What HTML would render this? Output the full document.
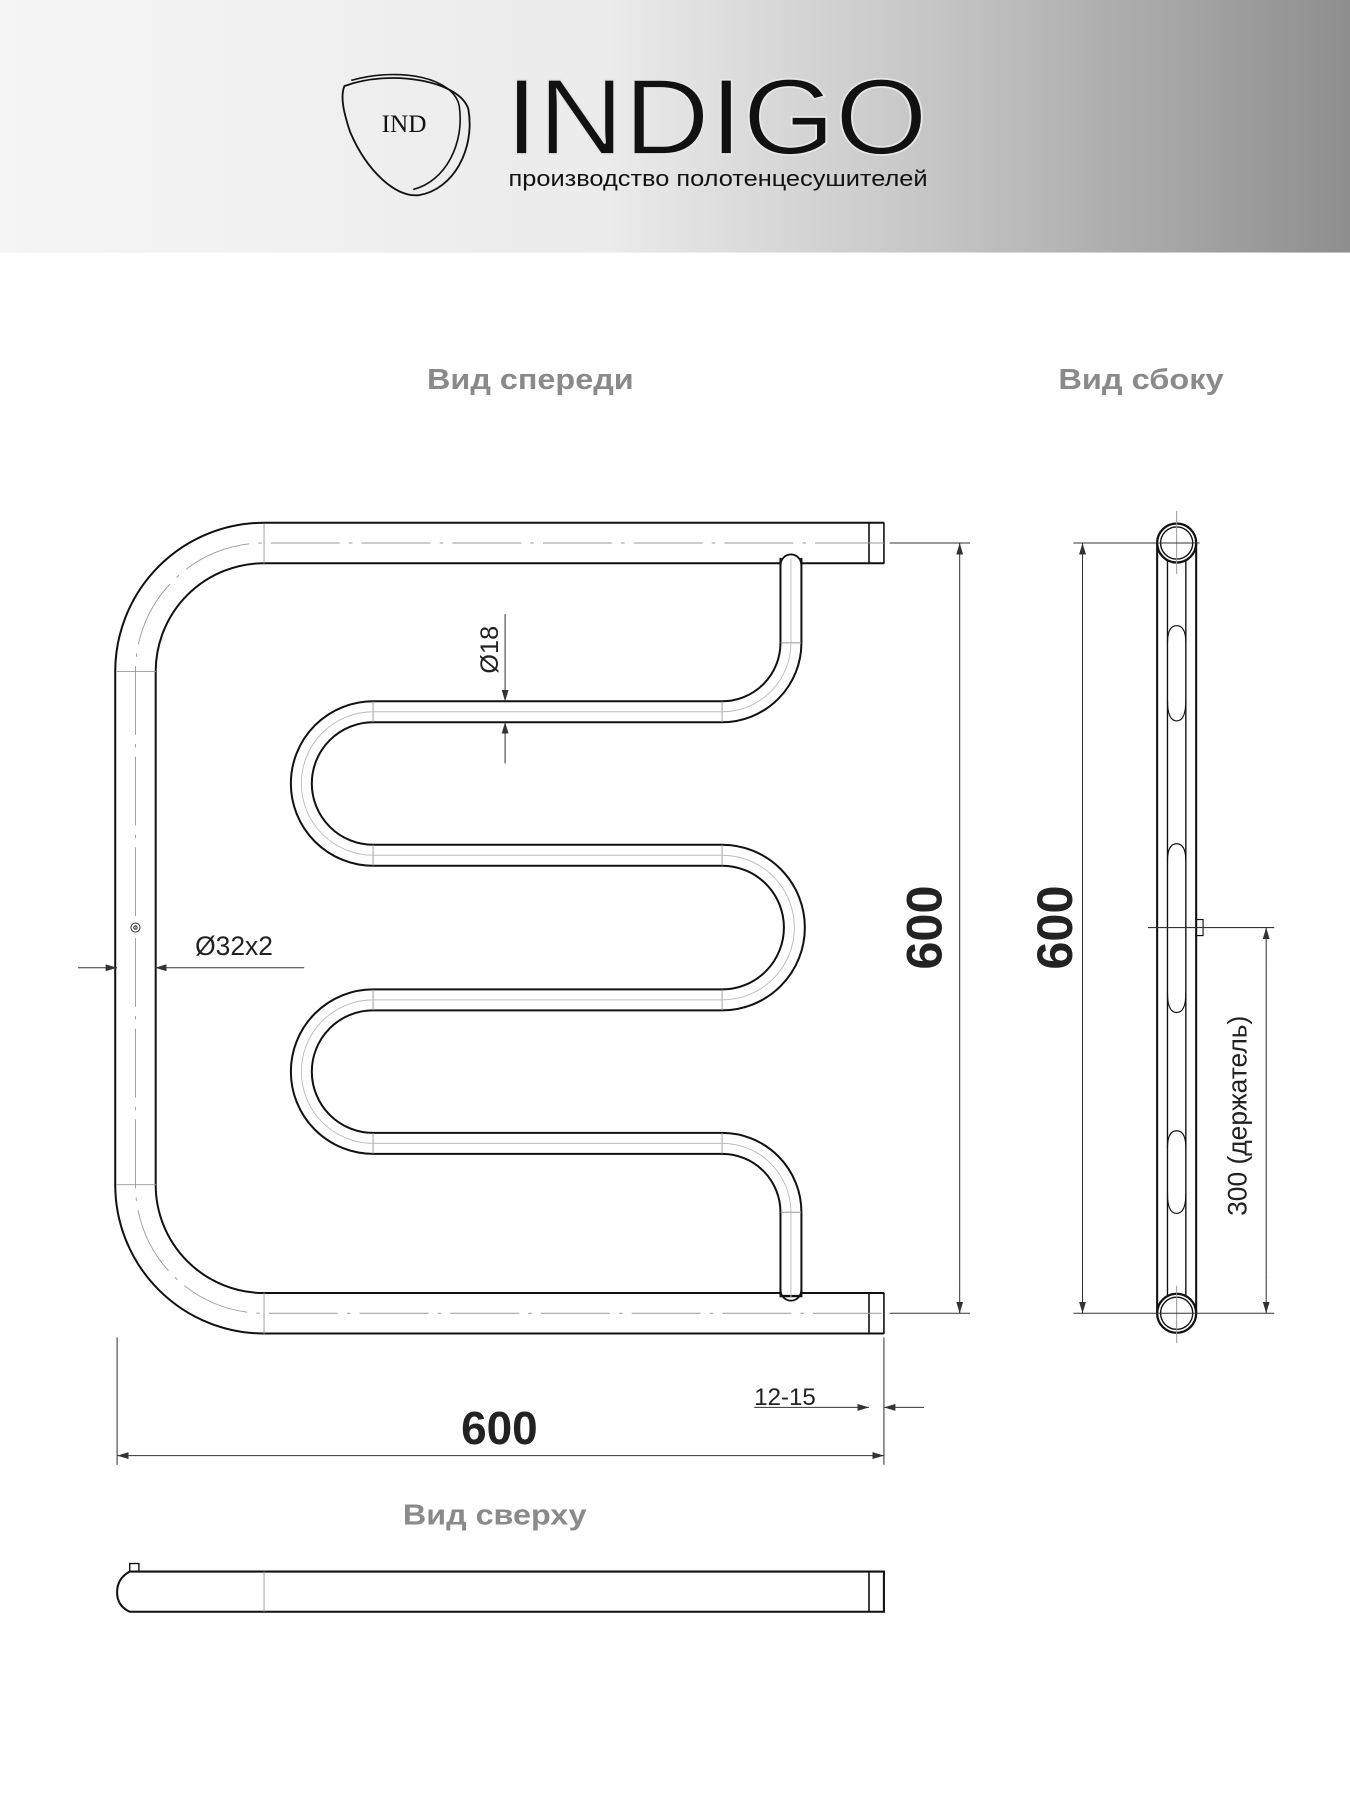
<!DOCTYPE html>
<html><head><meta charset="utf-8"><style>
html,body{margin:0;padding:0;background:#fff}
svg{display:block}
</style></head><body>
<svg width="1350" height="1800" viewBox="0 0 1176 1568" xmlns="http://www.w3.org/2000/svg" font-family="Liberation Sans, DejaVu Sans, sans-serif">
<defs>
<linearGradient id="hg" x1="0" y1="0" x2="1" y2="0">
<stop offset="0" stop-color="#f5f5f5"/><stop offset="0.45" stop-color="#ebebeb"/><stop offset="0.7" stop-color="#c4c4c4"/><stop offset="1" stop-color="#8e8e8e"/>
</linearGradient>
<marker id="ar" viewBox="0 0 10 6" refX="10" refY="3" markerWidth="10" markerHeight="6" orient="auto" markerUnits="userSpaceOnUse"><path d="M0,0 L10,3 L0,6 z" fill="#333"/></marker>
</defs>
<rect x="0" y="0" width="1176" height="220" fill="url(#hg)"/>
<!-- logo -->
<path d="M300,75 C340,60 400,70 408,95 C414,130 395,165 365,170 C345,172 320,150 305,115 C300,100 296,85 300,75 Z" fill="none" stroke="#111" stroke-width="1.6"/>
<path d="M306,70 C350,58 395,68 400,92 C405,125 388,158 360,165" fill="none" stroke="#111" stroke-width="1.4"/>
<text x="352" y="115" font-family="Liberation Serif, serif" font-size="22" text-anchor="middle" fill="#111">IND</text>
<text x="440" y="134" font-size="94" fill="#111" stroke="#e6e6e6" stroke-width="1.5" textLength="368" lengthAdjust="spacingAndGlyphs">INDIGO</text>
<text x="443" y="162" font-size="19" fill="#111" textLength="365" lengthAdjust="spacingAndGlyphs">производство полотенцесушителей</text>
<!-- titles -->
<g font-weight="bold" fill="#8a8a8a" font-size="25">
<text x="372" y="339" textLength="180" lengthAdjust="spacingAndGlyphs">Вид спереди</text>
<text x="922" y="339" textLength="144" lengthAdjust="spacingAndGlyphs">Вид сбоку</text>
<text x="351" y="1328" textLength="160" lengthAdjust="spacingAndGlyphs">Вид сверху</text>
</g>
<!-- main tube -->
<path d="M770,473 L230,473 A112,112 0 0 0 118,585 L118,1032 A112,112 0 0 0 230,1144 L770,1144" fill="none" stroke="#111" stroke-width="37"/>
<path d="M770,473 L230,473 A112,112 0 0 0 118,585 L118,1032 A112,112 0 0 0 230,1144 L770,1144" fill="none" stroke="#fff" stroke-width="33.5"/>
<!-- serpentine -->
<path d="M689,486 L689,560 A60,60 0 0 1 629,620 L325,620 A62.5,62.5 0 0 0 325,745 L629,745 A63,63 0 0 1 629,871 L325,871 A62.5,62.5 0 0 0 325,996 L629,996 A60,60 0 0 1 689,1056 L689,1130" fill="none" stroke="#111" stroke-width="20"/>
<path d="M689,484 L689,560 A60,60 0 0 1 629,620 L325,620 A62.5,62.5 0 0 0 325,745 L629,745 A63,63 0 0 1 629,871 L325,871 A62.5,62.5 0 0 0 325,996 L629,996 A60,60 0 0 1 689,1056 L689,1128" fill="none" stroke="#fff" stroke-width="16.5"/>
<path d="M680,492 A9,9 0 0 1 698,492" fill="none" stroke="#111" stroke-width="1.6"/>
<path d="M680,1124 A9,9 0 0 0 698,1124" fill="none" stroke="#111" stroke-width="1.6"/>
<!-- end caps & seams -->
<g stroke="#111" stroke-width="1.4">
<line x1="770" y1="455" x2="770" y2="491"/><line x1="757" y1="456" x2="757" y2="491"/>
<line x1="770" y1="1126" x2="770" y2="1162"/><line x1="757" y1="1126" x2="757" y2="1162"/>
</g>
<g stroke="#999" stroke-width="0.8" fill="none">
<line x1="230" y1="456" x2="230" y2="491"/><line x1="230" y1="1126" x2="230" y2="1162"/>
<line x1="101" y1="585" x2="136" y2="585"/><line x1="101" y1="1032" x2="136" y2="1032"/>
<line x1="325" y1="611" x2="325" y2="629"/><line x1="629" y1="611" x2="629" y2="629"/>
<line x1="325" y1="736" x2="325" y2="754"/><line x1="629" y1="736" x2="629" y2="754"/>
<line x1="325" y1="862" x2="325" y2="880"/><line x1="629" y1="862" x2="629" y2="880"/>
<line x1="325" y1="987" x2="325" y2="1005"/><line x1="629" y1="987" x2="629" y2="1005"/>
<line x1="680" y1="560" x2="698" y2="560"/><line x1="680" y1="1056" x2="698" y2="1056"/>
<path d="M770,473 L230,473 A112,112 0 0 0 118,585 L118,1032 A112,112 0 0 0 230,1144 L770,1144" stroke-dasharray="60,8,3,8"/>
<path d="M689,486 L689,560 A60,60 0 0 1 629,620 L325,620 A62.5,62.5 0 0 0 325,745 L629,745 A63,63 0 0 1 629,871 L325,871 A62.5,62.5 0 0 0 325,996 L629,996 A60,60 0 0 1 689,1056 L689,1130" stroke="#bbb"/>
</g>
<g stroke="#333" stroke-width="0.9" fill="none">
<line x1="775" y1="473" x2="845" y2="473"/><line x1="775" y1="1144" x2="845" y2="1144"/>
<line x1="836" y1="500" x2="836" y2="473" marker-end="url(#ar)"/>
<line x1="836" y1="1120" x2="836" y2="1144" marker-end="url(#ar)"/>
<line x1="836" y1="500" x2="836" y2="1120"/>
<line x1="440" y1="535" x2="440" y2="611" marker-end="url(#ar)"/>
<line x1="440" y1="665" x2="440" y2="629" marker-end="url(#ar)"/>
<line x1="68" y1="843" x2="102" y2="843" marker-end="url(#ar)"/>
<line x1="265" y1="843" x2="135" y2="843" marker-end="url(#ar)"/>
<circle cx="118" cy="808" r="4"/><circle cx="118" cy="808" r="1.5"/>
<line x1="102" y1="1165" x2="102" y2="1276"/><line x1="770" y1="1165" x2="770" y2="1276"/>
<line x1="435" y1="1268" x2="102" y2="1268" marker-end="url(#ar)"/>
<line x1="435" y1="1268" x2="770" y2="1268" marker-end="url(#ar)"/>
<line x1="657" y1="1226" x2="757" y2="1226" marker-end="url(#ar)"/>
<line x1="805" y1="1226" x2="770" y2="1226" marker-end="url(#ar)"/>
</g>
<g fill="#222">
<text transform="translate(820,808) rotate(-90)" font-size="44" font-weight="bold" text-anchor="middle">600</text>
<text transform="translate(434,566) rotate(-90)" font-size="22" text-anchor="middle">Ø18</text>
<text x="170" y="832" font-size="23">Ø32x2</text>
<text x="435" y="1258" font-size="40" font-weight="bold" text-anchor="middle">600</text>
<text x="657" y="1224" font-size="21">12-15</text>
<text transform="translate(934,808) rotate(-90)" font-size="44" font-weight="bold" text-anchor="middle">600</text>
<text transform="translate(1086,972) rotate(-90)" font-size="23" text-anchor="middle">300 (держатель)</text>
</g>
<!-- side view -->
<g stroke="#111" fill="none">
<path d="M1008,473 L1008,1144 M1042,473 L1042,1144" stroke-width="1.8"/>
<path d="M1017,488 L1017,1130 M1033,488 L1033,1130" stroke-width="1.2"/>
<circle cx="1025" cy="473" r="17" stroke-width="2" fill="#fff"/><circle cx="1025" cy="473" r="14" stroke-width="1.2"/>
<circle cx="1025" cy="1144" r="17" stroke-width="2" fill="#fff"/><circle cx="1025" cy="1144" r="14" stroke-width="1.2"/>
<path d="M1017,560 Q1017,545 1025,545 Q1033,545 1033,560 M1017,610 Q1017,628 1025,628 Q1033,628 1033,610" stroke-width="1"/>
<path d="M1017,750 Q1017,735 1025,735 Q1033,735 1033,750 M1017,865 Q1017,882 1025,882 Q1033,882 1033,865" stroke-width="1"/>
<path d="M1017,1000 Q1017,985 1025,985 Q1033,985 1033,1000 M1017,1040 Q1017,1057 1025,1057 Q1033,1057 1033,1040" stroke-width="1"/>
<rect x="1042" y="801" width="6" height="14" stroke-width="1"/>
</g>
<g stroke="#333" stroke-width="0.9" fill="none">
<line x1="1025" y1="445" x2="1025" y2="500" stroke="#999"/><line x1="1025" y1="1120" x2="1025" y2="1170" stroke="#999"/>
<line x1="935" y1="473" x2="1045" y2="473"/><line x1="935" y1="1144" x2="1110" y2="1144"/>
<line x1="943" y1="500" x2="943" y2="473" marker-end="url(#ar)"/>
<line x1="943" y1="1120" x2="943" y2="1144" marker-end="url(#ar)"/>
<line x1="943" y1="500" x2="943" y2="1120"/>
<line x1="1000" y1="808" x2="1110" y2="808"/>
<line x1="1103" y1="840" x2="1103" y2="808" marker-end="url(#ar)"/>
<line x1="1103" y1="1110" x2="1103" y2="1144" marker-end="url(#ar)"/>
<line x1="1103" y1="840" x2="1103" y2="1110"/>
</g>
<!-- top view -->
<g stroke="#111" fill="none">
<path d="M770,1369 L113,1369 Q102,1375 102,1387 Q102,1399 113,1404 L770,1404 Z" stroke-width="1.8"/>
<line x1="757" y1="1369" x2="757" y2="1404" stroke-width="1.4"/>
<line x1="230" y1="1369" x2="230" y2="1404" stroke="#999" stroke-width="0.8"/>
<rect x="113" y="1362" width="8" height="7" stroke-width="1.2"/>
</g>
</svg>
</body></html>
